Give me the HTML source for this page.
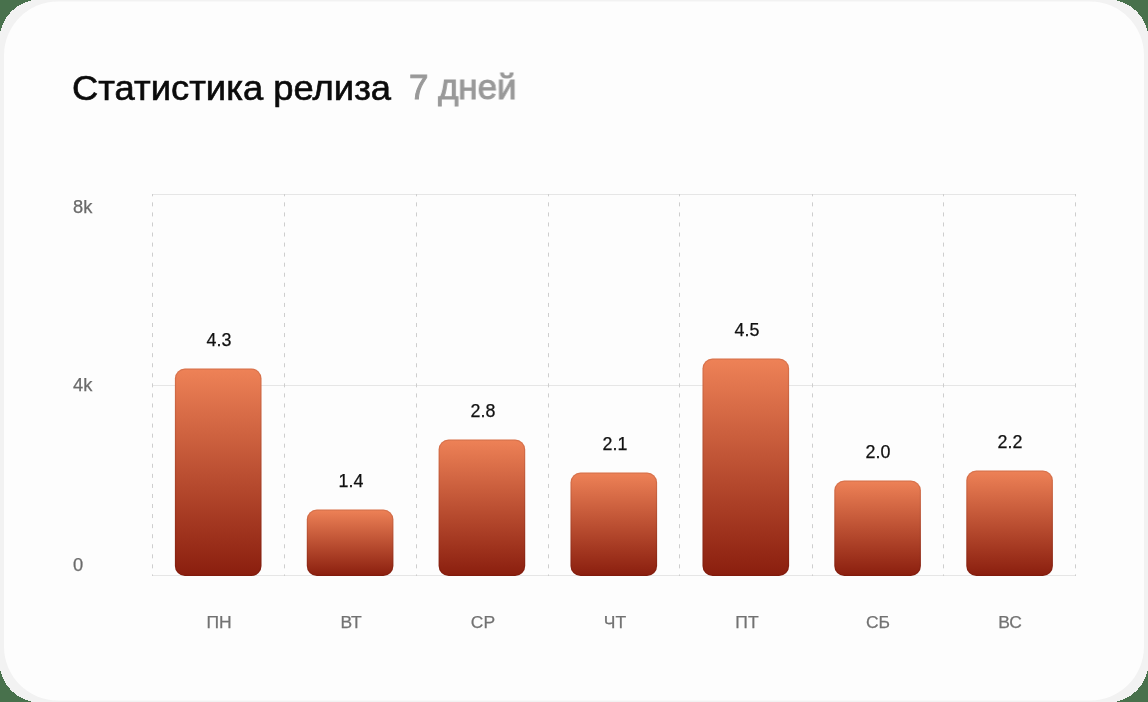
<!DOCTYPE html>
<html>
<head>
<meta charset="utf-8">
<style>
html,body{margin:0;padding:0;}
body{width:1148px;height:702px;overflow:hidden;background:#48714c;position:relative;font-family:"Liberation Sans",sans-serif;}
.frame{position:absolute;left:0;top:0;}
.abs{position:absolute;white-space:nowrap;will-change:transform;}
.title{left:72px;top:67.5px;font-size:35px;color:#0b0b0b;line-height:40px;-webkit-text-stroke:0.6px #0b0b0b;transform:scaleX(1.04);transform-origin:0 0;}
.t2{left:409px;top:66.5px;font-size:35px;color:#999;line-height:40px;-webkit-text-stroke:1px #999;transform:scaleX(0.995);transform-origin:0 0;}
.grid{position:absolute;background:#e6e6e6;height:1px;left:152px;width:924px;}
.yl{font-size:17.6px;color:#6a6a6a;line-height:20px;-webkit-text-stroke:0.25px #6a6a6a;transform:scaleX(1.04);transform-origin:0 0;}
.chart{position:absolute;left:0;top:0;}
.val{font-size:17.5px;color:#111;line-height:20px;width:132px;text-align:center;-webkit-text-stroke:0.25px #111;transform:scaleX(1.02);}
.xl{font-size:16.5px;color:#727272;line-height:20px;width:132px;text-align:center;-webkit-text-stroke:0.25px #727272;transform:scaleX(1.06);}
</style>
</head>
<body>
<svg class="frame" width="1148" height="702" viewBox="0 0 1148 702"><rect x="-0.5" y="-0.5" width="1149" height="703" rx="40.5" ry="40.5" fill="#f2f2f2" shape-rendering="crispEdges"/><rect x="4" y="1.5" width="1140" height="699" rx="54" ry="54" fill="#fdfdfd"/></svg>
<div class="abs title">Статистика релиза</div>
<div class="abs t2">7 дней</div>


<div class="grid" style="top:194px"></div>
<div class="grid" style="top:385px"></div>
<div class="grid" style="top:575px"></div>

<div class="abs yl" style="left:73px;top:197px">8k</div>
<div class="abs yl" style="left:73px;top:375px">4k</div>
<div class="abs yl" style="left:73px;top:555px">0</div>

<svg class="chart" width="1148" height="702" viewBox="0 0 1148 702">
<line x1="152.5" y1="194" x2="152.5" y2="576" stroke="#cecece" stroke-width="1" stroke-dasharray="4 6.056" stroke-dashoffset="1.7"/><line x1="284.5" y1="194" x2="284.5" y2="576" stroke="#cecece" stroke-width="1" stroke-dasharray="4 6.056" stroke-dashoffset="1.7"/><line x1="416.5" y1="194" x2="416.5" y2="576" stroke="#cecece" stroke-width="1" stroke-dasharray="4 6.056" stroke-dashoffset="1.7"/><line x1="548.5" y1="194" x2="548.5" y2="576" stroke="#cecece" stroke-width="1" stroke-dasharray="4 6.056" stroke-dashoffset="1.7"/><line x1="679.5" y1="194" x2="679.5" y2="576" stroke="#cecece" stroke-width="1" stroke-dasharray="4 6.056" stroke-dashoffset="1.7"/><line x1="812.5" y1="194" x2="812.5" y2="576" stroke="#cecece" stroke-width="1" stroke-dasharray="4 6.056" stroke-dashoffset="1.7"/><line x1="943.5" y1="194" x2="943.5" y2="576" stroke="#cecece" stroke-width="1" stroke-dasharray="4 6.056" stroke-dashoffset="1.7"/><line x1="1075.5" y1="194" x2="1075.5" y2="576" stroke="#cecece" stroke-width="1" stroke-dasharray="4 6.056" stroke-dashoffset="1.7"/>
<defs><linearGradient id="g" x1="0" y1="0" x2="0" y2="1"><stop offset="0" stop-color="#ee8257"/><stop offset="1" stop-color="#8a1e0e"/></linearGradient></defs>
<rect x="174.9" y="368.5" width="86.6" height="207.5" rx="10" ry="10" fill="url(#g)"/><rect x="175.5" y="369.1" width="85.4" height="206.3" rx="9.4" ry="9.4" fill="none" stroke="rgba(50,0,0,0.1)" stroke-width="1.2"/>
<rect x="306.8" y="509.5" width="86.6" height="66.5" rx="10" ry="10" fill="url(#g)"/><rect x="307.40000000000003" y="510.1" width="85.4" height="65.3" rx="9.4" ry="9.4" fill="none" stroke="rgba(50,0,0,0.1)" stroke-width="1.2"/>
<rect x="438.6" y="439.5" width="86.6" height="136.5" rx="10" ry="10" fill="url(#g)"/><rect x="439.20000000000005" y="440.1" width="85.4" height="135.3" rx="9.4" ry="9.4" fill="none" stroke="rgba(50,0,0,0.1)" stroke-width="1.2"/>
<rect x="570.5" y="472.5" width="86.6" height="103.5" rx="10" ry="10" fill="url(#g)"/><rect x="571.1" y="473.1" width="85.4" height="102.3" rx="9.4" ry="9.4" fill="none" stroke="rgba(50,0,0,0.1)" stroke-width="1.2"/>
<rect x="702.5" y="358.5" width="86.6" height="217.5" rx="10" ry="10" fill="url(#g)"/><rect x="703.1" y="359.1" width="85.4" height="216.3" rx="9.4" ry="9.4" fill="none" stroke="rgba(50,0,0,0.1)" stroke-width="1.2"/>
<rect x="834.3" y="480.5" width="86.6" height="95.5" rx="10" ry="10" fill="url(#g)"/><rect x="834.9" y="481.1" width="85.4" height="94.3" rx="9.4" ry="9.4" fill="none" stroke="rgba(50,0,0,0.1)" stroke-width="1.2"/>
<rect x="966.3" y="470.5" width="86.6" height="105.5" rx="10" ry="10" fill="url(#g)"/><rect x="966.9" y="471.1" width="85.4" height="104.3" rx="9.4" ry="9.4" fill="none" stroke="rgba(50,0,0,0.1)" stroke-width="1.2"/>
</svg>

<div class="abs val" style="left:153.0px;top:329.9px">4.3</div>
<div class="abs val" style="left:284.9px;top:470.9px">1.4</div>
<div class="abs val" style="left:416.7px;top:400.9px">2.8</div>
<div class="abs val" style="left:548.6px;top:433.9px">2.1</div>
<div class="abs val" style="left:680.6px;top:319.9px">4.5</div>
<div class="abs val" style="left:812.4px;top:441.9px">2.0</div>
<div class="abs val" style="left:944.4px;top:431.9px">2.2</div>

<div class="abs xl" style="left:153.0px;top:611.5px">ПН</div>
<div class="abs xl" style="left:284.9px;top:611.5px">ВТ</div>
<div class="abs xl" style="left:416.7px;top:611.5px">СР</div>
<div class="abs xl" style="left:548.6px;top:611.5px">ЧТ</div>
<div class="abs xl" style="left:680.6px;top:611.5px">ПТ</div>
<div class="abs xl" style="left:812.4px;top:611.5px">СБ</div>
<div class="abs xl" style="left:944.4px;top:611.5px">ВС</div>
</body>
</html>
